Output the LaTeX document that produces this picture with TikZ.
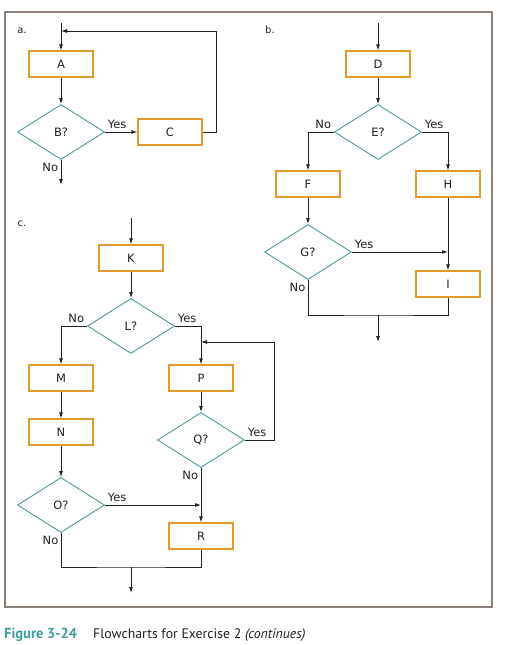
\documentclass[tikz,border=0pt]{standalone}
\usepackage{fontspec}
\usepackage{tikz}
\usetikzlibrary{shapes.geometric, arrows.meta}
\newfontfamily\chartfont{DejaVu Sans}
\newfontfamily\capfont{PT Sans}
\definecolor{boxorange}{HTML}{E29A2C}
\definecolor{diateal}{HTML}{4A9B97}
\definecolor{framegray}{HTML}{8B7F79}
\definecolor{figteal}{HTML}{3D9CA0}
\definecolor{inkdark}{HTML}{231F20}

\tikzset{
    proc/.style={draw=boxorange, line width=1.2pt, minimum width=64pt, minimum height=26pt, inner sep=0pt},
    dec/.style={diamond, draw=diateal, line width=0.9pt, minimum width=87pt, minimum height=55pt, inner sep=0pt, aspect=1.6},
    flow/.style={-{Latex[length=6pt,width=4pt]}, line width=0.9pt},
    lbl/.style={inner sep=2.5pt},
    part/.style={font=\chartfont\fontsize{10}{12}\selectfont}
}

\begin{document}
\begin{tikzpicture}[x=1pt, y=-1pt, text=inkdark, draw=inkdark, font=\chartfont\fontsize{11.5}{13}\selectfont]
            \useasboundingbox (0,0) rectangle (516,645);
            \draw[framegray, line width=2pt] (5,12) rectangle (492,607);

            % a.
            \node[part] (la) at (22,31) {a.};
            \node[proc] (A) at (61,64) {A};
            \node[dec] (B) at (61,132) {B?};
            \node[proc] (C) at (170,132) {C};
            \coordinate (aIn) at (61,23);
            \coordinate (aLoop) at (61,31);
            \coordinate (aOut) at (61,185);
            \draw[flow] (aIn) -- (A);
            \draw[flow] (A) -- (B);
            \draw[flow] (B.east) -- node[lbl, pos=0, above right] {Yes} (C.west);
            \draw[flow] (C.east) -- ++(14,0) |- (aLoop);
            \draw[flow] (B.south) -- node[lbl, pos=0, below left] {No} (aOut);

            % b.
            \node[part] (lb) at (270,30) {b.};
            \node[proc] (D) at (378,64) {D};
            \node[dec] (E) at (378,132) {E?};
            \node[proc] (F) at (308,184) {F};
            \node[proc] (H) at (448,184) {H};
            \node[dec] (G) at (308,252) {G?};
            \node[proc] (I) at (448,284) {I};
            \coordinate (bIn) at (378,23);
            \coordinate (gYes) at (448,252);
            \coordinate (bJoin) at (378,315);
            \coordinate (bOut) at (378,342);
            \draw[flow] (bIn) -- (D);
            \draw[flow] (D) -- (E);
            \draw[flow] (E.west) -| node[lbl, pos=0, above left] {No} (F);
            \draw[flow] (E.east) -| node[lbl, pos=0, above right] {Yes} (H);
            \draw[flow] (F) -- (G);
            \draw[flow] (G.east) -- node[lbl, pos=0, above right] {Yes} (gYes);
            \draw[flow] (H) -- (I);
            \draw (G.south) |- node[lbl, pos=0, below left] {No} (bJoin) -| (I.south);
            \draw[flow] (bJoin) -- (bOut);

            % c.
            \node[part] (lc) at (22,224) {c.};
            \node[proc] (K) at (131,258) {K};
            \node[dec] (L) at (131,326) {L?};
            \node[proc] (M) at (61,378) {M};
            \node[proc] (P) at (201,378) {P};
            \node[proc] (N) at (61,432) {N};
            \node[dec] (Q) at (201,440) {Q?};
            \node[dec] (O) at (61,505) {O?};
            \node[proc] (R) at (201,536) {R};
            \coordinate (cIn) at (131,218);
            \coordinate (cLoop) at (201,342);
            \coordinate (oYes) at (201,505);
            \coordinate (cJoin) at (131,567);
            \coordinate (cOut) at (131,593);
            \draw[flow] (cIn) -- (K);
            \draw[flow] (K) -- (L);
            \draw[flow] (L.west) -| node[lbl, pos=0, above left] {No} (M);
            \draw[flow] (L.east) -| node[lbl, pos=0, above right] {Yes} (P);
            \draw[flow] (M) -- (N);
            \draw[flow] (P) -- (Q);
            \draw[flow] (Q.east) -- node[lbl, pos=0, above right] {Yes} ++(29,0) |- (cLoop);
            \draw[flow] (N) -- (O);
            \draw[flow] (Q.south) -- node[lbl, pos=0, below left] {No} (R);
            \draw[flow] (O.east) -- node[lbl, pos=0, above right] {Yes} (oYes);
            \draw (O.south) |- node[lbl, pos=0, below left] {No} (cJoin) -| (R.south);
            \draw[flow] (cJoin) -- (cOut);

            % caption
            \node[anchor=base west, inner sep=0pt, font=\capfont\bfseries\fontsize{14.5}{16}\selectfont, text=figteal] (fig) at (4,638) {Figure 3-24};
            \node[anchor=base west, inner sep=0pt, font=\capfont\fontsize{13.8}{16}\selectfont] (cap) at (93,638) {Flowcharts for Exercise 2 \textit{(continues)}};
\end{tikzpicture}
\end{document}
